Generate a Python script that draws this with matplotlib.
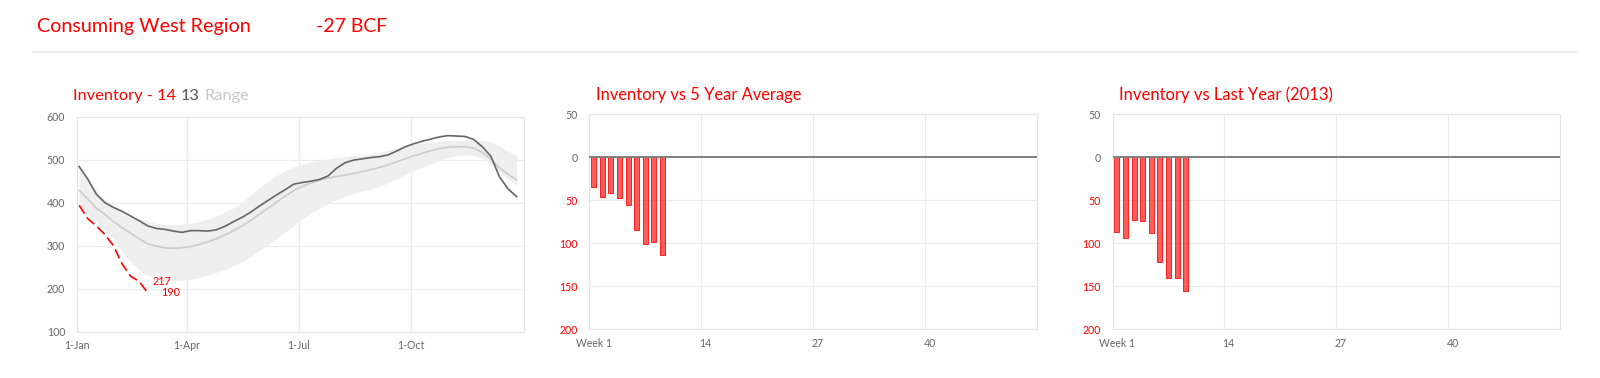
import matplotlib
matplotlib.use("Agg")
import matplotlib.pyplot as plt
import numpy as np
import pandas as pd
import matplotlib.dates as mdates
from matplotlib.lines import Line2D

# ---------------- data ----------------
week_dates = pd.date_range("2014-01-03", periods=52, freq="7D")

inv_2014 = [394, 363, 346, 326, 300, 258, 229, 217, 190]

inv_2013 = [484, 455, 420, 400, 389, 380, 369, 358, 346, 340,
            338, 334, 331, 335, 335, 334, 337, 345, 356, 366,
            378, 392, 405, 418, 430, 443, 447, 450, 454, 462,
            480, 493, 499, 502, 505, 507, 511, 520, 530, 537,
            543, 548, 553, 556, 555, 554, 547, 530, 508, 460,
            432, 414]

avg_5yr = [429, 409, 387, 373, 356, 342, 329, 316, 304, 299,
           295, 294, 295, 298, 303, 309, 316, 325, 335, 346,
           359, 373, 387, 401, 415, 428, 438, 446, 452, 457,
           461, 464, 468, 472, 477, 482, 488, 495, 502, 509,
           515, 521, 526, 529, 530, 530, 527, 517, 501, 481,
           466, 453]

range_hi = [480, 455, 428, 408, 393, 380, 370, 362, 356, 352,
            350, 349, 350, 352, 356, 362, 369, 378, 388, 402,
            418, 435, 450, 463, 475, 484, 490, 495, 499, 502,
            505, 507, 509, 511, 514, 517, 522, 527, 532, 536,
            539, 541, 543, 544, 545, 546, 546, 545, 542, 532,
            520, 508]

range_lo = [391, 373, 355, 336, 316, 286, 262, 243, 231, 222,
            220, 219, 220, 222, 226, 232, 238, 245, 253, 263,
            275, 288, 302, 317, 332, 347, 362, 375, 387, 398,
            407, 415, 421, 427, 432, 438, 446, 455, 465, 475,
            483, 490, 498, 505, 509, 511, 510, 503, 490, 472,
            455, 441]

vs_5yr = [-35, -46, -41, -47, -56, -84, -101, -99, -114]
vs_last_year = [-87, -94, -73, -74, -88, -122, -140, -140, -156]

n_weeks = 52
week_tick_pos = [0, 13, 26, 39]
week_tick_labels = ["Week 1", "14", "27", "40"]
month_ticks = ["2014-01-01", "2014-04-01", "2014-07-01", "2014-10-01"]
month_labels = ["1-Jan", "1-Apr", "1-Jul", "1-Oct"]

main_title = "Consuming West Region"
main_change = "-27 BCF"

# ---------------- figure ----------------
W, H = 1600, 378
fig = plt.figure(figsize=(W / 100, H / 100), dpi=100)
plt.rcParams["font.family"] = ["Lato", "DejaVu Sans"]
renderer = fig.canvas.get_renderer()

RED = "#ff0000"
TICK = "#666666"
GRID = "#ebebeb"


def ax_at(l, t, r, b):
    return fig.add_axes([l / W, 1 - b / H, (r - l) / W, (b - t) / H])


def fit_text(x, y, s, color, target_w, size0=12, va="baseline"):
    t = fig.text(x / W, 1 - y / H, s, color=color, fontsize=size0, va=va, ha="left")
    w = t.get_window_extent(renderer).width
    t.set_fontsize(size0 * target_w / w)
    return t


def style(ax):
    for sp in ax.spines.values():
        sp.set_color("#e4e4e4")
        sp.set_linewidth(0.8)
    ax.tick_params(length=0, labelsize=7.6, colors=TICK)
    ax.tick_params(axis="y", pad=8.3)
    ax.tick_params(axis="x", pad=6.0)
    ax.set_axisbelow(True)


# main title
fit_text(36.7, 32.3, main_title, RED, 213)
fit_text(316, 32.3, main_change, RED, 71)
fig.add_artist(Line2D([33 / W, 1576 / W], [1 - 51.7 / H] * 2, color="#ebebeb", lw=1.5))

# ---------------- chart 1 ----------------
ax1 = ax_at(76.7, 116.7, 524, 331.7)
style(ax1)
ax1.fill_between(week_dates, range_lo, range_hi, color="#efefef", lw=0, zorder=1)
ax1.plot(week_dates, avg_5yr, color="#cccccc", lw=1.2, zorder=2)
ax1.plot(week_dates, inv_2013, color="#666666", lw=1.2, zorder=3)
ax1.plot(week_dates[:len(inv_2014)], inv_2014, color=RED, lw=1.2,
         dashes=(6, 2.6), zorder=4)
ax1.set_xlim(pd.Timestamp("2014-01-01"), pd.Timestamp("2015-01-01"))
ax1.set_ylim(100, 600)
ax1.set_yticks([100, 200, 300, 400, 500, 600])
ax1.set_xticks([pd.Timestamp(d) for d in month_ticks], month_labels)
ax1.grid(True, color=GRID, lw=0.8)
n14 = len(inv_2014)
ax1.annotate(str(inv_2014[-2]), (week_dates[n14 - 2], inv_2014[-2]), xytext=(9.5, 0),
             textcoords="offset points", color=RED, fontsize=7.8, va="center", ha="left")
ax1.annotate(str(inv_2014[-1]), (week_dates[n14 - 1], inv_2014[-1]), xytext=(9.5, 0),
             textcoords="offset points", color=RED, fontsize=7.8, va="center", ha="left")

t = fit_text(72.7, 100, "Inventory - 14", RED, 103)
fs = t.get_fontsize()
fig.text(180.9 / W, 1 - 100 / H, "13", color="#555555", fontsize=fs, va="baseline")
fig.text(204.5 / W, 1 - 100 / H, "Range", color="#c8c8c8", fontsize=fs, va="baseline")


# ---------------- bar charts ----------------
def bar_chart(l, r, values, title, title_x, title_w):
    ax = ax_at(l, 114.3, r, 329.3)
    style(ax)
    x = np.arange(len(values))
    ax.bar(x, values, width=0.58, color=(1, 0.2, 0.2, 0.8), edgecolor="#ff2020",
           lw=0.7, zorder=2)
    ax.axhline(0, color="#7f7f7f", lw=1.4, zorder=3)
    ax.set_xlim(-0.5, n_weeks - 0.5)
    ax.set_ylim(-200, 50)
    yt = [-200, -150, -100, -50, 0, 50]
    ax.set_yticks(yt, [str(abs(v)) for v in yt])
    for lab, v in zip(ax.get_yticklabels(), yt):
        lab.set_color(TICK if v >= 0 else RED)
    ax.set_xticks(week_tick_pos, week_tick_labels)
    ax.set_xticks([p - 0.5 for p in week_tick_pos[1:]], minor=True)
    ax.tick_params(which="minor", length=0)
    ax.grid(True, axis="y", color=GRID, lw=0.8)
    ax.grid(True, axis="x", which="minor", color=GRID, lw=0.8)
    ax.grid(False, axis="x", which="major")
    fit_text(title_x, 100, title, RED, title_w)
    return ax


bar_chart(589.3, 1037.2, vs_5yr, "Inventory vs 5 Year Average", 596, 205)
bar_chart(1112.5, 1560.4, vs_last_year, "Inventory vs Last Year (2013)", 1119.3, 213.6)

fig.savefig("out.png", dpi=100)
